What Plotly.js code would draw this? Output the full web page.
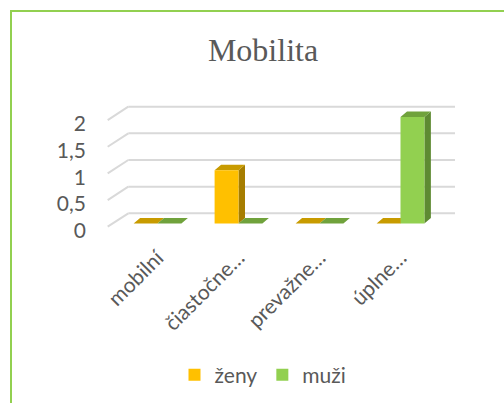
<!DOCTYPE html>
<html><head><meta charset="utf-8">
<script src="https://cdn.plot.ly/plotly-3.0.1.min.js"></script>
<style>html,body{margin:0;padding:0;background:#fff}#chart{width:504px;height:403px}</style>
</head><body><div id="chart"></div>
<script>
// ---- data ----
const chartTitle = "Mobilita";
const categories = ["mobilní", "čiastočne…", "prevažne…", "úplne…"];
const seriesNames = ["ženy", "muži"];
const zeny = [0, 1, 0, 0];
const muzi = [0, 0, 0, 2];
const yTickVals = [0, 0.5, 1, 1.5, 2];
const yTickText = ["0", "0,5", "1", "1,5", "2"];

// ---- styling / geometry ----
const W = 504, H = 403;
const fx = p => p / W, fy = p => 1 - p / H;
const K = 53.3;          // px per unit (front face)
const front0 = 223.5;    // px of value 0 on the front face
const yRange = [-0.15, 2.4];
const xRange = [-0.5, 3.5];
const xDomPx = [117, 441];
const xDom = [fx(xDomPx[0]), fx(xDomPx[1])];
const yDom = [fy(front0 - yRange[0] * K), fy(front0 - yRange[1] * K)];
const bargap = 0.41;
const bw = (1 - bargap) / 2;
const dX = 6.5 / 81, dY = 5.5 / K;     // depth of the 3D bars (axis units)
const backOff = 10.2 / K;              // back wall offset (axis units)
const labelOff = -3.2 / K;             // front edge of the floor (axis units)
const frontColors = ["#FFC000", "#92D050"];
const sideColors = ["#A67D00", "#5E8A32"];
const topColors = ["#C89B00", "#70A23C"];
const textColor = "#595959";
const font = "Lato, 'Noto Sans', sans-serif";
const fs = 21;

const seriesVals = [zeny, muzi];
const faceTraces = [];
seriesVals.forEach((vals, s) => {
  const sx = [], sy = [], tx = [], ty = [];
  vals.forEach((v, i) => {
    const L = i - bw + s * bw, R = L + bw;
    sx.push(R, R + dX, R + dX, R, null);
    sy.push(0, dY, v + dY, v, null);
    tx.push(L, R, R + dX, L + dX, null);
    ty.push(v, v, v + dY, v + dY, null);
  });
  faceTraces.push({type: "scatter", mode: "none", fill: "toself", fillcolor: sideColors[s],
    x: sx, y: sy, xaxis: "x", yaxis: "y", showlegend: false, hoverinfo: "skip"});
  faceTraces.push({type: "scatter", mode: "none", fill: "toself", fillcolor: topColors[s],
    x: tx, y: ty, xaxis: "x", yaxis: "y", showlegend: false, hoverinfo: "skip"});
});

const barTraces = seriesVals.map((vals, s) => ({
  type: "bar", name: seriesNames[s], x: categories, y: vals,
  xaxis: "x2", yaxis: "y2", marker: {color: frontColors[s], line: {width: 0}},
  hoverinfo: "x+y+name"
}));

const shapes = [];
yTickVals.forEach(v => {
  shapes.push({type: "line", xref: "paper", yref: "y", x0: fx(128.3), x1: fx(455),
    y0: v + backOff, y1: v + backOff, layer: "below", line: {color: "#D9D9D9", width: 2}});
  shapes.push({type: "line", xref: "paper", yref: "y", x0: fx(107.7), x1: fx(128.3),
    y0: v + labelOff, y1: v + backOff, layer: "below", line: {color: "#D9D9D9", width: 2}});
});
shapes.push({type: "rect", xref: "paper", yref: "paper", x0: fx(11), x1: 1.2, y0: -0.2, y1: fy(11),
  line: {color: "#92D050", width: 2}, fillcolor: "rgba(0,0,0,0)", layer: "below"});

const layout = {
  width: W, height: H, autosize: false,
  margin: {l: 0, r: 0, t: 0, b: 0, pad: 0},
  paper_bgcolor: "#ffffff", plot_bgcolor: "rgba(0,0,0,0)",
  font: {family: font, size: fs, color: textColor},
  title: {text: chartTitle, font: {family: "'Liberation Serif', 'Times New Roman', serif", size: 32, color: textColor},
    x: fx(263), xanchor: "center", xref: "container", y: fy(50), yanchor: "middle", yref: "container"},
  barmode: "group", bargap: bargap, bargroupgap: 0,
  showlegend: true,
  legend: {orientation: "h", x: fx(263), xanchor: "center", y: fy(375), yanchor: "middle",
    font: {family: font, size: fs, color: textColor}, itemwidth: 30, traceorder: "normal"},
  xaxis: {domain: xDom, range: xRange, showticklabels: false, showgrid: false, zeroline: false,
    showline: false, ticks: "", anchor: "y", automargin: false, fixedrange: true},
  yaxis: {domain: yDom, range: yRange, tickmode: "array", tickvals: yTickVals, ticktext: yTickText,
    showgrid: false, zeroline: false, showline: false, ticks: "", anchor: "x",
    ticklabelshift: 7, ticklabelstandoff: 30, automargin: false, fixedrange: true,
    tickfont: {family: font, size: fs, color: textColor}},
  xaxis2: {overlaying: "x", type: "category", categoryorder: "array", categoryarray: categories,
    range: xRange, anchor: "y", side: "bottom", tickangle: -45, showgrid: false, zeroline: false,
    showline: false, ticks: "", automargin: false, fixedrange: true, ticklabelstandoff: 9,
    tickfont: {family: font, size: fs, color: textColor}},
  yaxis2: {overlaying: "y", range: yRange, anchor: "x", showticklabels: false, showgrid: false,
    zeroline: false, showline: false, ticks: "", automargin: false, fixedrange: true},
  shapes: shapes
};

Plotly.newPlot("chart", faceTraces.concat(barTraces), layout, {displayModeBar: false, staticPlot: true});
</script>
</body></html>
